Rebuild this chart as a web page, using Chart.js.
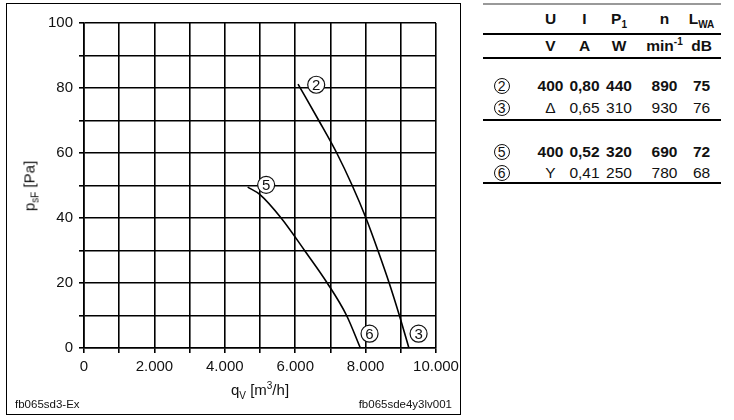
<!DOCTYPE html>
<html><head><meta charset="utf-8">
<script src="https://cdn.jsdelivr.net/npm/chart.js@4"></script>
<style>
html,body{margin:0;padding:0;background:#fff;width:734px;height:420px;overflow:hidden;font-family:"Liberation Sans",Arial,sans-serif;color:#111;}
#c{position:absolute;left:0;top:0;}
#frame{position:absolute;left:6px;top:3px;width:453px;height:410px;border:1.5px solid #000;}
.t{position:absolute;transform:translate(-50%,-50%);white-space:nowrap;line-height:1;}
.sub{font-size:10px;position:relative;top:4px;}
.sup{font-size:10px;position:relative;top:-6px;}
.hl{position:absolute;left:483px;width:238px;height:1.5px;background:#000;}
.circ{display:inline-block;width:14px;height:14px;border:1.2px solid #111;border-radius:50%;text-align:center;font-size:14px;line-height:14px;}
</style></head>
<body>
<div id="frame"></div>
<canvas id="c" width="470" height="420"></canvas>
<div class="t" style="left:260px;top:389px;font-size:15px;">q<span class="sub">V</span> [m<span class="sup">3</span>/h]</div>
<div class="t" style="left:29px;top:186px;font-size:15px;transform:translate(-50%,-50%) rotate(-90deg);">p<span class="sub">sF</span> [Pa]</div>
<div class="t" style="left:15px;top:405px;transform:translate(0,-50%);font-size:11.5px;">fb065sd3-Ex</div>
<div class="t" style="left:452px;top:405px;transform:translate(-100%,-50%);font-size:11.5px;">fb065sde4y3lv001</div>
<div id="table"></div>
<script>
// ---- chart data ----
const curve2X = [6080, 6670, 7180, 7620, 8010, 8350, 8670, 8960, 9230];
const curve2Y = [81.2, 70, 60, 50, 40, 30, 20, 10, 0];
const curve5X = [4650, 5000, 5600, 6267, 6910, 7460, 7850];
const curve5Y = [49.5, 47.2, 40, 30, 20, 10, 0];
const markLabels = ['2', '5', '6', '3'];
const markX = [6597, 5175, 8112, 9505];
const markY = [81, 50.2, 4.4, 4.4];
const xTickMin = 0, xTickMax = 10000, xTickStep = 1000, xLabelStep = 2000;
const yTickMin = 0, yTickMax = 100, yTickStep = 10, yLabelStep = 20;

// ---- table data ----
const rowIds = ['2', '3', '5', '6'];
const colU = ['400', '\u0394', '400', 'Y'];
const colI = ['0,80', '0,65', '0,52', '0,41'];
const colP1 = ['440', '310', '320', '250'];
const colN = ['890', '930', '690', '780'];
const colLWA = ['75', '76', '72', '68'];
const rowBold = [true, false, true, false];
const headers = ['U', 'I', 'P<span style="font-size:10px;position:relative;top:4px;">1</span>', 'n', 'L<span style="font-size:10px;position:relative;top:4px;">WA</span>'];
const units = ['V', 'A', 'W', 'min<span style="font-size:10px;position:relative;top:-6px;">-1</span>', 'dB'];

function fmt(v){ return String(v).replace(/\B(?=(\d{3})+(?!\d))/g, '.'); }
const pts = (xs, ys) => xs.map((x, i) => ({x, y: ys[i]}));

Chart.defaults.font.family = '"Liberation Sans", Arial, sans-serif';
Chart.defaults.color = '#111';

const markPlugin = {
  id: 'marks',
  afterDatasetsDraw(chart){
    const ctx = chart.ctx, xs = chart.scales.x, ys = chart.scales.y;
    ctx.save();
    markLabels.forEach((l, i) => {
      const px = xs.getPixelForValue(markX[i]), py = ys.getPixelForValue(markY[i]);
      ctx.beginPath(); ctx.arc(px, py, 8.5, 0, Math.PI*2);
      ctx.fillStyle = '#fff'; ctx.fill();
      ctx.lineWidth = 1.2; ctx.strokeStyle = '#111'; ctx.stroke();
      ctx.fillStyle = '#111'; ctx.font = '15px "Liberation Sans", Arial, sans-serif';
      ctx.textAlign = 'center'; ctx.textBaseline = 'middle';
      ctx.fillText(l, px, py + 1);
    });
    ctx.restore();
  }
};

new Chart(document.getElementById('c'), {
  type: 'scatter',
  data: { datasets: [
    { data: pts(curve2X, curve2Y), showLine: true, borderColor: '#000', borderWidth: 1.6, pointRadius: 0, cubicInterpolationMode: 'monotone' },
    { data: pts(curve5X, curve5Y), showLine: true, borderColor: '#000', borderWidth: 1.6, pointRadius: 0, cubicInterpolationMode: 'monotone' }
  ]},
  options: {
    responsive: false, devicePixelRatio: 1, animation: false,
    layout: { padding: { left: 0, top: 23, right: 34, bottom: 0 } },
    plugins: { legend: { display: false }, tooltip: { enabled: false } },
    scales: {
      x: {
        type: 'linear', min: xTickMin, max: xTickMax,
        afterFit(s){ s.height = 72; },
        ticks: { stepSize: xTickStep, autoSkip: false, maxRotation: 0, padding: 5, font: { size: 15 },
          callback: v => v % xLabelStep === 0 ? fmt(v) : '' },
        grid: { color: '#000', lineWidth: 1.6, tickLength: 5 },
        border: { display: true, color: '#000', width: 1.6 }
      },
      y: {
        type: 'linear', min: yTickMin, max: yTickMax,
        afterFit(s){ s.width = 84; },
        ticks: { stepSize: yTickStep, autoSkip: false, padding: 6, font: { size: 15 },
          callback: v => v % yLabelStep === 0 ? String(v) : '' },
        grid: { color: '#000', lineWidth: 1.6, tickLength: 5 },
        border: { display: true, color: '#000', width: 1.6 }
      }
    }
  },
  plugins: [markPlugin]
});

// ---- table ----
const tb = document.getElementById('table');
const colCX = [550.5, 584.5, 619, 664.5, 701.5];
const rowCY = [86, 107.5, 151.5, 172.5];
function put(html, cx, cy, bold, size){
  const d = document.createElement('div');
  d.className = 't';
  d.style.left = cx + 'px'; d.style.top = cy + 'px';
  d.style.fontSize = (size || 15.5) + 'px';
  if (bold) d.style.fontWeight = 'bold';
  d.innerHTML = html;
  tb.appendChild(d);
}
headers.forEach((h, i) => put(h, colCX[i], 19, true));
units.forEach((h, i) => put(h, colCX[i], 46, true));
rowIds.forEach((id, r) => {
  put('<span class="circ">' + id + '</span>', 501.7, rowCY[r], false);
  [colU[r], colI[r], colP1[r], colN[r], colLWA[r]].forEach((v, c) => put(v, colCX[c], rowCY[r], rowBold[r]));
});
[[3, '#999'], [33, '#000'], [57, '#000'], [119, '#000'], [182, '#000']].forEach(([y, col]) => {
  const l = document.createElement('div'); l.className = 'hl';
  l.style.top = y + 'px'; l.style.background = col;
  tb.appendChild(l);
});
</script>
</body></html>
